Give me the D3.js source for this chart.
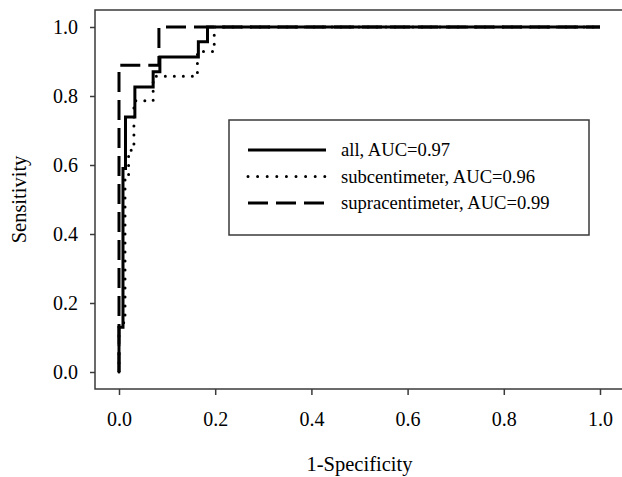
<!DOCTYPE html>
<html>
<head>
<meta charset="utf-8">
<script src="https://cdn.jsdelivr.net/npm/d3@7"></script>
<style>
  body { margin: 0; background: #fff; }
  text { font-family: "Liberation Serif", "Times New Roman", serif; fill: #000; }
</style>
</head>
<body>
<main></main>
<script>
// ROC step points: fpr where the step happens, tpr reached there
const fprAll = [0, 0, 0.0083, 0.0135, 0.033, 0.071, 0.085, 0.165, 0.184, 1];
const tprAll = [0, 0.13, 0.59, 0.739, 0.826, 0.87, 0.913, 0.957, 1.0, 1.0];

const fprSub = [0, 0, 0.0125, 0.020, 0.031, 0.071, 0.163, 0.198, 1];
const tprSub = [0, 0.143, 0.571, 0.643, 0.786, 0.857, 0.929, 1.0, 1.0];

const fprSupra = [0, 0, 0.083, 1];
const tprSupra = [0, 0.889, 1.0, 1.0];

const tickValues = [0, 0.2, 0.4, 0.6, 0.8, 1.0];
const seriesNames = ["all, AUC=0.97", "subcentimeter, AUC=0.96", "supracentimeter, AUC=0.99"];

const width = 622, height = 477;

let svg = d3.select("main").append("svg").attr("width", width).attr("height", height);

let x = d3.scaleLinear().domain([0, 1]).range([119, 600]);
let y = d3.scaleLinear().domain([0, 1]).range([372, 27]);

// frame (right side runs off the picture)
svg.append("rect")
   .attr("x", 95).attr("y", 10)
   .attr("width", 540).attr("height", 379)
   .attr("fill", "none").attr("stroke", "#3a3a3a").attr("stroke-width", 1.5);

let xAxis = svg.append("g")
   .attr("transform", "translate(0,389)")
   .call(d3.axisBottom(x).tickValues(tickValues).tickFormat(d3.format(".1f")).tickSize(6).tickSizeOuter(0));

let yAxis = svg.append("g")
   .attr("transform", "translate(95,0)")
   .call(d3.axisLeft(y).tickValues(tickValues).tickFormat(d3.format(".1f")).tickSize(5).tickSizeOuter(0));

[xAxis, yAxis].forEach(g => {
    g.select(".domain").remove();
    g.selectAll("line").attr("stroke", "#3a3a3a").attr("stroke-width", 1.5);
    g.selectAll("text").attr("font-size", "20px").attr("font-family", "Liberation Serif");
});
xAxis.selectAll("text").attr("dy", null).attr("y", 37);
yAxis.selectAll("text").attr("x", -17).attr("dy", "0.33em");

// axis titles
svg.append("text")
   .attr("x", x(0.5)).attr("y", 471)
   .attr("text-anchor", "middle")
   .attr("font-size", "20.5px")
   .text("1-Specificity");

svg.append("text")
   .attr("transform", `translate(26,${y(0.5)}) rotate(-90)`)
   .attr("text-anchor", "middle")
   .attr("font-size", "20.5px")
   .text("Sensitivity");

let line = d3.line()
   .x(d => x(d[0]))
   .y(d => y(d[1]))
   .curve(d3.curveStepAfter);

let series = [
    { pts: d3.zip(fprAll, tprAll), dash: null, cap: "butt" },
    { pts: d3.zip(fprSub, tprSub), dash: "0,9", cap: "round" },
    { pts: d3.zip(fprSupra, tprSupra), dash: "20,8", cap: "butt" }
];

// draw supra first, then sub, then all on top
[2, 1, 0].forEach(i => {
    svg.append("path")
       .attr("d", line(series[i].pts))
       .attr("fill", "none")
       .attr("stroke", "#000")
       .attr("stroke-width", 3)
       .attr("stroke-linecap", series[i].cap)
       .attr("stroke-dasharray", series[i].dash);
});

// legend
let legend = svg.append("g").attr("id", "legend");
legend.append("rect")
   .attr("x", 229).attr("y", 120)
   .attr("width", 360).attr("height", 115)
   .attr("fill", "#fff").attr("stroke", "#3a3a3a").attr("stroke-width", 1.5);

let rows = legend.selectAll("g.row")
   .data(seriesNames)
   .enter()
   .append("g")
   .attr("class", "row")
   .attr("transform", (d, i) => `translate(0,${150 + i * 26.5})`);

rows.append("line")
   .attr("x1", 248).attr("x2", 326)
   .attr("y1", 0).attr("y2", 0)
   .attr("stroke", "#000")
   .attr("stroke-width", 3)
   .attr("stroke-linecap", (d, i) => series[i].cap)
   .attr("stroke-dasharray", (d, i) => i === 1 ? "0,9.6" : series[i].dash);

rows.append("text")
   .attr("x", 341)
   .attr("dy", "0.33em")
   .attr("font-size", "18.6px")
   .text(d => d);
</script>
</body>
</html>
